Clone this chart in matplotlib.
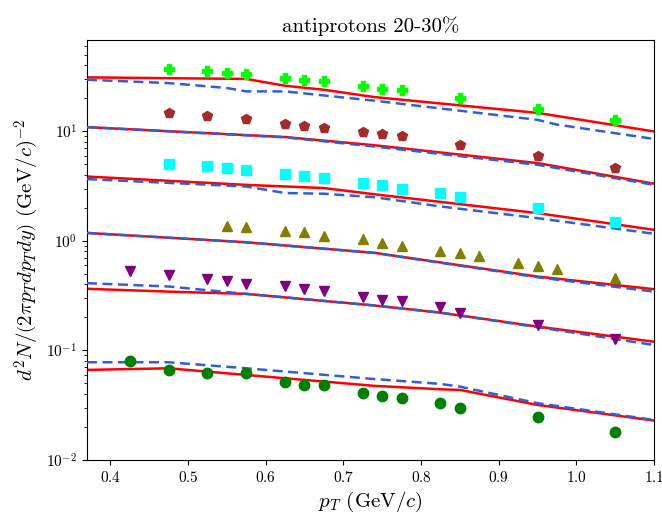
import matplotlib
matplotlib.use("Agg")
import matplotlib.pyplot as plt
import numpy as np

plt.rcParams['font.family'] = 'serif'
plt.rcParams['font.serif'] = ['cmr10']
plt.rcParams['mathtext.fontset'] = 'cm'
plt.rcParams['axes.formatter.use_mathtext'] = True

# measured spectra (scaled per centrality slice)
pt_plus = [0.475, 0.525, 0.55, 0.575, 0.625, 0.65, 0.675, 0.725, 0.75, 0.775, 0.85, 0.95, 1.05]
y_plus = [37.0, 35.2, 34.0, 33.5, 30.6, 29.4, 28.5, 26.0, 24.4, 23.6, 20.1, 16.0, 12.7]

pt_pent = [0.475, 0.525, 0.575, 0.625, 0.65, 0.675, 0.725, 0.75, 0.775, 0.85, 0.95, 1.05]
y_pent = [14.7, 13.9, 12.9, 11.7, 11.1, 10.8, 9.76, 9.35, 8.97, 7.54, 5.97, 4.61]

pt_sq = [0.475, 0.525, 0.55, 0.575, 0.625, 0.65, 0.675, 0.725, 0.75, 0.775, 0.825, 0.85, 0.95, 1.05]
y_sq = [5.05, 4.77, 4.64, 4.39, 4.03, 3.87, 3.76, 3.36, 3.2, 3.0, 2.73, 2.51, 1.99, 1.47]

pt_up = [0.55, 0.575, 0.625, 0.65, 0.675, 0.725, 0.75, 0.775, 0.825, 0.85, 0.875, 0.925, 0.95, 0.975, 1.05]
y_up = [1.37, 1.33, 1.22, 1.2, 1.11, 1.04, 0.953, 0.906, 0.815, 0.772, 0.72, 0.625, 0.595, 0.552, 0.456]

pt_dn = [0.425, 0.475, 0.525, 0.55, 0.575, 0.625, 0.65, 0.675, 0.725, 0.75, 0.775, 0.825, 0.85, 0.95, 1.05]
y_dn = [0.525, 0.49, 0.447, 0.431, 0.403, 0.388, 0.362, 0.349, 0.31, 0.289, 0.285, 0.251, 0.221, 0.171, 0.126]

pt_circ = [0.425, 0.475, 0.525, 0.575, 0.625, 0.65, 0.675, 0.725, 0.75, 0.775, 0.825, 0.85, 0.95, 1.05]
y_circ = [0.0802, 0.0664, 0.0619, 0.0619, 0.0513, 0.0484, 0.0484, 0.0406, 0.0384, 0.0366, 0.033, 0.0297, 0.0249, 0.0179]

# model curves
pt_m1 = [0.37, 0.575, 0.625, 0.675, 0.74, 0.95, 1.1]
red_1 = [31.0, 30.0, 26.0, 23.9, 20.5, 14.7, 9.95]
pt_b1 = [0.37, 0.475, 0.55, 0.575, 0.625, 0.675, 0.74, 0.95, 0.975, 1.1]
blue_1 = [29.5, 27.5, 24.8, 23.1, 23.1, 21.2, 19.0, 12.7, 11.5, 8.5]

pt_m2 = [0.37, 0.625, 0.74, 0.95, 1.1]
red_2 = [10.9, 8.85, 7.45, 5.12, 3.32]
blue_2 = [10.9, 8.8, 7.25, 4.94, 3.24]

pt_m3 = [0.37, 0.575, 0.675, 0.74, 0.95, 1.1]
red_3 = [3.86, 3.24, 3.03, 2.66, 1.79, 1.26]
pt_b3 = [0.37, 0.575, 0.625, 0.675, 0.74, 0.825, 0.95, 1.1]
blue_3 = [3.66, 3.13, 2.73, 2.69, 2.5, 2.06, 1.61, 1.16]

pt_m4 = [0.37, 0.575, 0.74, 0.95, 1.1]
red_4 = [1.18, 0.97, 0.777, 0.472, 0.362]
blue_4 = [1.18, 0.97, 0.775, 0.465, 0.344]

pt_m5 = [0.37, 0.475, 0.575, 0.74, 0.825, 0.95, 1.1]
red_5 = [0.365, 0.344, 0.328, 0.257, 0.221, 0.165, 0.12]
blue_5 = [0.411, 0.383, 0.328, 0.257, 0.221, 0.163, 0.112]

pt_m6 = [0.37, 0.475, 0.575, 0.74, 0.825, 0.85, 0.95, 1.1]
red_6 = [0.0664, 0.0687, 0.0597, 0.0475, 0.0442, 0.0436, 0.0318, 0.0229]
blue_6 = [0.078, 0.078, 0.0687, 0.0548, 0.0495, 0.0467, 0.033, 0.0232]

fig = plt.figure(figsize=(6.62, 5.16), dpi=100)
ax = fig.add_axes([0.1314, 0.1085, 0.8566, 0.814])

lw = 1.8
for px, r in [(pt_m1, red_1), (pt_m2, red_2), (pt_m3, red_3),
              (pt_m4, red_4), (pt_m5, red_5), (pt_m6, red_6)]:
    ax.plot(px, r, color='red', lw=lw, zorder=2)
for px, b in [(pt_b1, blue_1), (pt_m2, blue_2), (pt_b3, blue_3),
              (pt_m4, blue_4), (pt_m5, blue_5), (pt_m6, blue_6)]:
    ax.plot(px, b, color='#2f5fd8', lw=lw, ls='--', dashes=(4, 2.2), zorder=3)

ms = 7.5
ax.plot(pt_plus, y_plus, 'P', color='lime', ms=ms, ls='none', zorder=4)
ax.plot(pt_pent, y_pent, 'p', color='brown', ms=ms, ls='none', zorder=4)
ax.plot(pt_sq, y_sq, 's', color='cyan', ms=ms, ls='none', zorder=4)
ax.plot(pt_up, y_up, '^', color='olive', ms=ms, ls='none', zorder=4)
ax.plot(pt_dn, y_dn, 'v', color='purple', ms=ms, ls='none', zorder=4)
ax.plot(pt_circ, y_circ, 'o', color='green', ms=ms, ls='none', zorder=4)

ax.set_yscale('log')
ax.set_xlim(0.37, 1.1)
ax.set_ylim(1e-2, 68)
ax.set_xticks([0.4, 0.5, 0.6, 0.7, 0.8, 0.9, 1.0, 1.1])
ax.tick_params(labelsize=11)
ax.set_title('antiprotons 20-30%', fontsize=15)
ax.set_xlabel(r'$p_T$ (GeV$/c$)', fontsize=15)
ax.set_ylabel(r'$d^2N/\left(2\pi p_T dp_T dy\right)$ (GeV$/c)^{-2}$', fontsize=15)

fig.savefig('out.png', dpi=100)
